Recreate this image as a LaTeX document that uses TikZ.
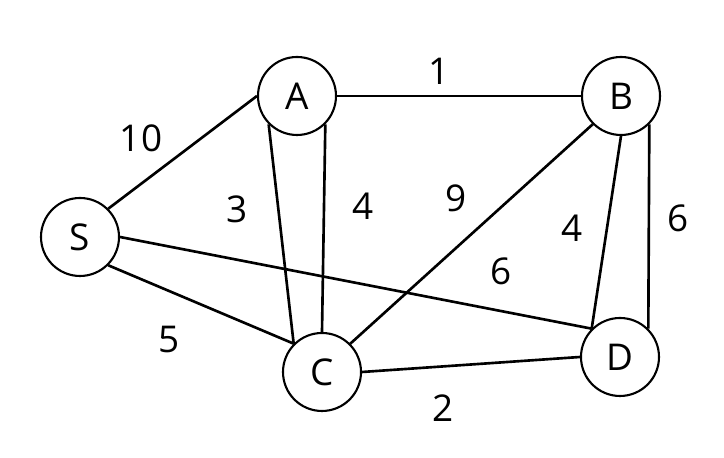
\documentclass[tikz,border=0pt]{standalone}
\usepackage{fontspec}
\setmainfont{Open Sans}

\begin{document}
\begin{tikzpicture}[
		vertex/.style = {draw, circle, line width=1.2pt, minimum size=1.56cm, inner sep=0pt, font=\fontsize{21}{25}\selectfont},
		edge/.style = {line width=1.5pt},
		weight/.style = {font=\fontsize{21}{25}\selectfont, inner sep=0pt}
	]
		\useasboundingbox (0,0) rectangle (14.48,9.16);
		\node[vertex] (S) at (1.6,4.42) {S};
		\node[vertex] (A) at (5.94,7.24) {A};
		\node[vertex] (B) at (12.42,7.24) {B};
		\node[vertex] (C) at (6.44,1.72) {C};
		\node[vertex] (D) at (12.4,2.02) {D};
		\draw[edge] (S.north east) -- (A.west);
		\draw[edge] (S.south east) -- (C.north west);
		\draw[edge] (S.east) -- (D.north west);
		\draw[edge] (A.east) -- (B.west);
		\draw[edge] (A.south west) -- (C.north west);
		\draw[edge] (A.south east) -- (C.north);
		\draw[edge] (B.south west) -- (C.north east);
		\draw[edge] (B.south) -- (D.north west);
		\draw[edge] (B.south east) -- (D.north east);
		\draw[edge] (C.east) -- (D.west);
		\node[weight] (wSA) at (2.82,6.4) {10};
		\node[weight] (wAC1) at (4.74,4.98) {3};
		\node[weight] (wAC2) at (7.26,5.04) {4};
		\node[weight] (wAB) at (8.78,7.74) {1};
		\node[weight] (wBC) at (9.12,5.2) {9};
		\node[weight] (wSD) at (10.02,3.74) {6};
		\node[weight] (wBD1) at (11.44,4.6) {4};
		\node[weight] (wBD2) at (13.56,4.8) {6};
		\node[weight] (wSC) at (3.38,2.36) {5};
		\node[weight] (wCD) at (8.86,1.0) {2};
	\end{tikzpicture}
\end{document}
